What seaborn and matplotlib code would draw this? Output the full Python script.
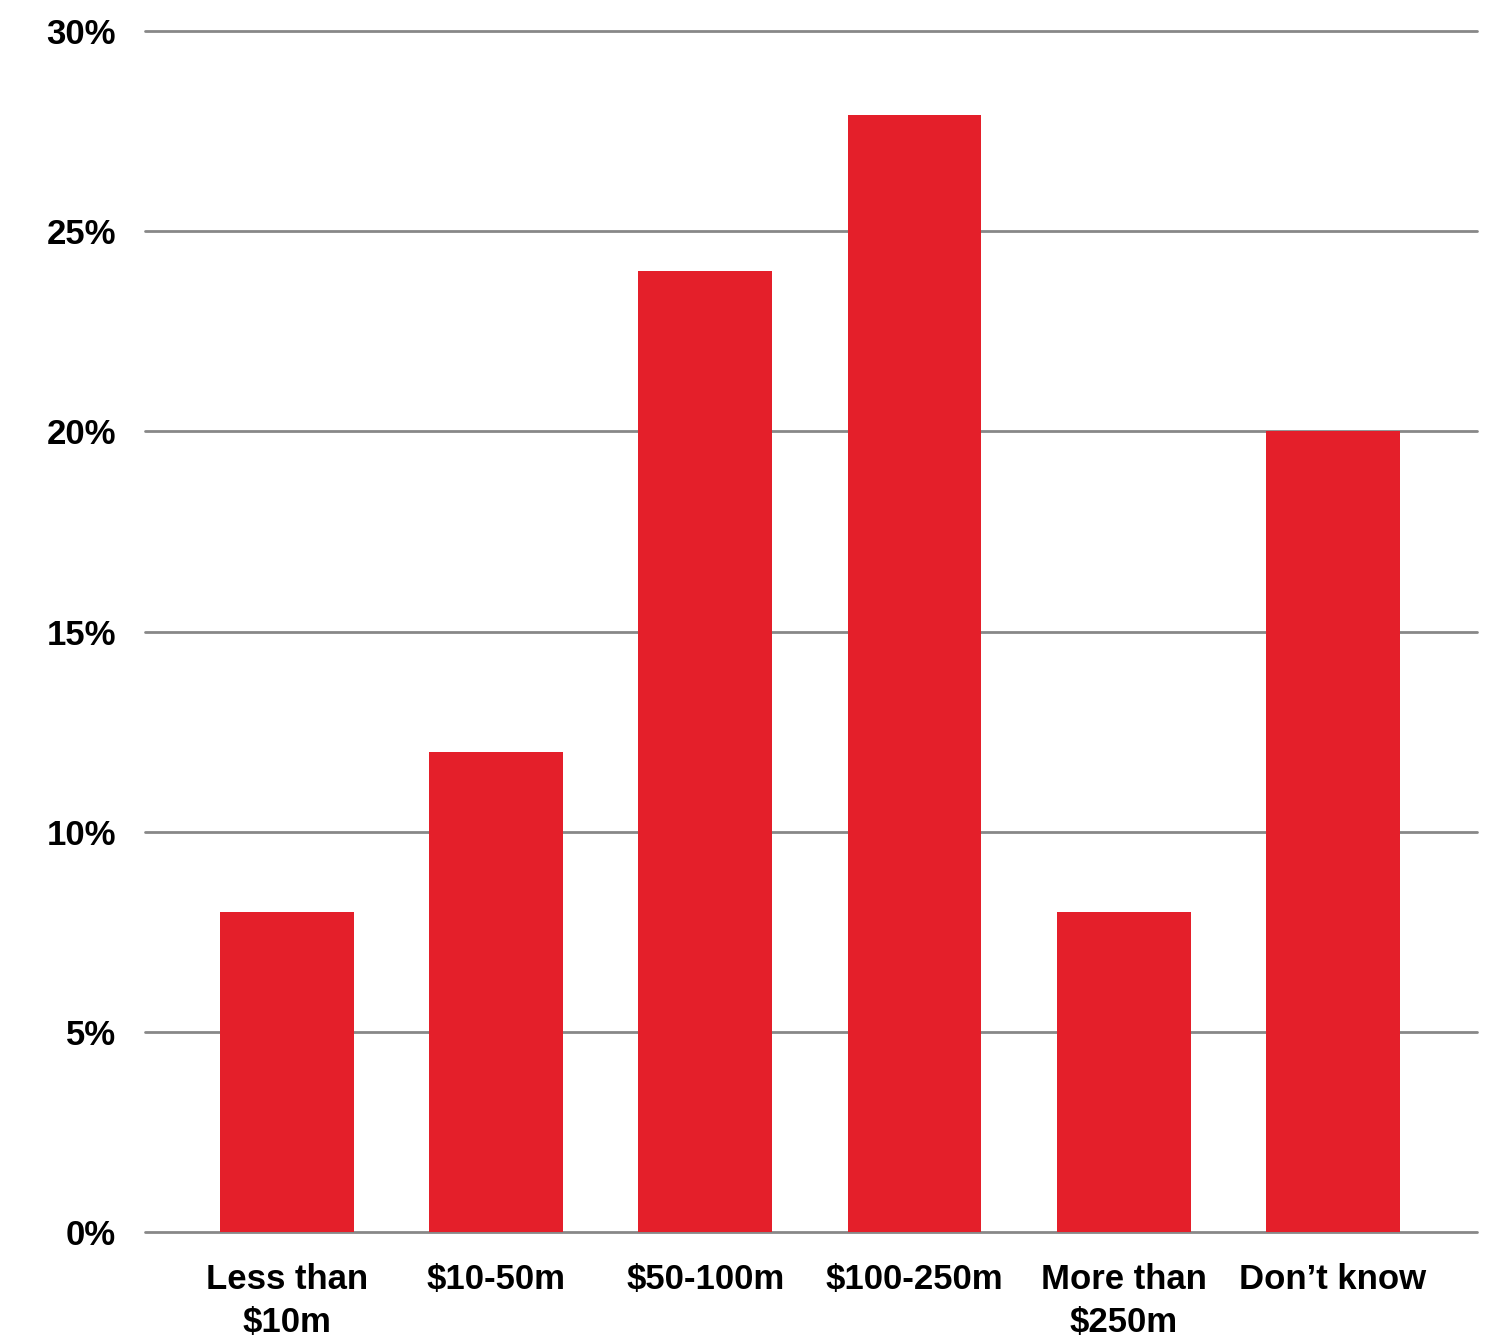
import matplotlib
matplotlib.use("Agg")
import matplotlib.pyplot as plt
import seaborn as sns
import pandas as pd

categories = ["Less than\n$10m", "$10-50m", "$50-100m", "$100-250m", "More than\n$250m", "Don\u2019t know"]
values = [8, 12, 24, 27.9, 8, 20]
yticks = [0, 5, 10, 15, 20, 25, 30]
ytick_labels = ["0%", "5%", "10%", "15%", "20%", "25%", "30%"]

sns.set_theme(style="white")
plt.rcParams['font.family'] = ['Liberation Sans', 'DejaVu Sans']

df = pd.DataFrame({"cat": categories, "val": values})

fig = plt.figure(figsize=(14.96, 13.37), dpi=100)
ax = fig.add_axes([0.0969, 0.0785, 0.8904, 0.8983])
sns.barplot(data=df, x="cat", y="val", color="#E41F2A", saturation=1, width=0.64,
            linewidth=0, edgecolor="none", ax=ax, zorder=3)

ax.set_ylim(0, 30)
ax.set_xlim(-0.68, 5.69)
ax.set_yticks(yticks)
ax.set_yticklabels(ytick_labels)
ax.yaxis.grid(True, color="#888888", linewidth=2)
for gl in ax.yaxis.get_gridlines():
    gl.set_clip_on(False)
ax.set_axisbelow(True)
for s in ax.spines.values():
    s.set_visible(False)
ax.set_xlabel("")
ax.set_ylabel("")
ax.tick_params(axis="y", length=0, pad=21, labelsize=25)
ax.tick_params(axis="x", length=0, pad=22, labelsize=25)
for lbl in ax.get_xticklabels() + ax.get_yticklabels():
    lbl.set_fontweight("bold")
    lbl.set_color("black")
for lbl in ax.get_xticklabels():
    lbl.set_linespacing(1.4)

fig.savefig("out.png", dpi=100, facecolor="white")
